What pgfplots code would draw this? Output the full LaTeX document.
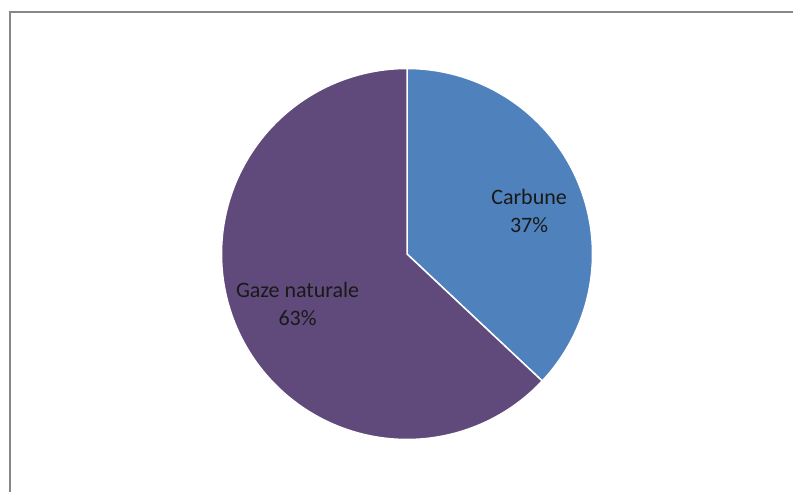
\documentclass[border=0pt]{standalone}
\usepackage{pgfplots}
\pgfplotsset{compat=1.18}
\usepackage{pgfplotstable}
\usepackage{fontspec}
\setmainfont{Carlito}
\definecolor{carb}{HTML}{4F81BD}
\definecolor{gaze}{HTML}{604A7B}
\definecolor{frame}{HTML}{878787}
\pgfplotstableread{
label value
Carbune 37
GazeNaturale 63
}\piedata
\pgfplotstablegetelem{0}{value}\of\piedata \let\vA\pgfplotsretval
\pgfplotstablegetelem{1}{value}\of\piedata \let\vB\pgfplotsretval
\pgfmathsetmacro\aMid{90-3.6*\vA}
\pgfmathsetmacro\aEnd{90-3.6*(\vA+\vB)}
\begin{document}
\begin{tikzpicture}
\useasboundingbox (0pt,0pt) rectangle (793pt,492pt);
\fill[white] (0pt,0pt) rectangle (793pt,492pt);
\draw[frame, line width=2pt] (10pt,0pt) -- (10pt,480pt) -- (793pt,480pt);
\begin{axis}[
  at={(407pt,238pt)}, anchor=origin,
  x=185.5pt, y=185.5pt,
  xmin=-1, xmax=1, ymin=-1, ymax=1,
  hide axis, clip=false,
]
\addplot[fill=carb, draw=white, line width=1.5pt, domain=\aMid:90, samples=120]
  ({cos(x)},{sin(x)}) -- (axis cs:0,0) -- cycle;
\addplot[fill=gaze, draw=white, line width=1.5pt, domain=\aEnd:\aMid, samples=200]
  ({cos(x)},{sin(x)}) -- (axis cs:0,0) -- cycle;
\node[align=center, font=\fontsize{22}{28}\selectfont, text=black!90] at (axis cs:0.658,0.232) {Carbune\\37\%};
\node[align=center, font=\fontsize{22}{28}\selectfont, text=black!90] at (axis cs:-0.590,-0.270) {Gaze naturale\\63\%};
\end{axis}
\end{tikzpicture}
\end{document}
